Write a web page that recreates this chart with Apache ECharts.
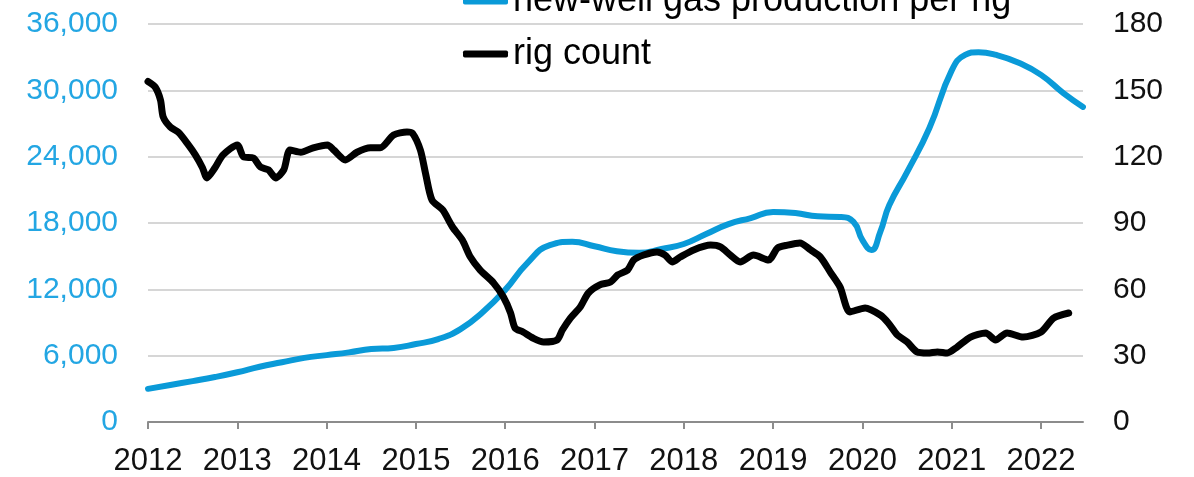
<!DOCTYPE html>
<html>
<head>
<meta charset="utf-8">
<script src="https://cdn.jsdelivr.net/npm/echarts@6/dist/echarts.min.js"></script>
<style>
html,body{margin:0;padding:0;background:#fff;}
#chart{width:1194px;height:477px;}
</style>
</head>
<body>
<div id="chart"></div>
<script>
// ---- data ----
const yearTicks = [2012, 2013, 2014, 2015, 2016, 2017, 2018, 2019, 2020, 2021, 2022];

const gasYears = [2012.00, 2012.25, 2012.50, 2012.75, 2013.00, 2013.25, 2013.50, 2013.75, 2014.00, 2014.25,
  2014.50, 2014.75, 2015.00, 2015.25, 2015.50, 2015.75, 2016.00, 2016.25, 2016.50, 2016.75,
  2017.00, 2017.25, 2017.50, 2017.75, 2018.00, 2018.25, 2018.50, 2018.75, 2019.00, 2019.25,
  2019.50, 2019.75, 2019.90, 2020.00, 2020.10, 2020.20, 2020.30, 2020.50, 2020.75, 2021.00,
  2021.15, 2021.30, 2021.50, 2021.75, 2022.00, 2022.25, 2022.47];
const gasValues = [3000, 3350, 3700, 4070, 4500, 5000, 5400, 5800, 6050, 6300,
  6600, 6700, 7050, 7500, 8400, 9950, 11950, 14400, 16000, 16300,
  15900, 15450, 15300, 15650, 16100, 17000, 17900, 18450, 19000, 18900,
  18600, 18550, 18100, 16450, 15550, 17200, 19600, 22600, 26600, 31800,
  33200, 33450, 33200, 32500, 31400, 29750, 28500];

const rigYears = [2012.00, 2012.08, 2012.14, 2012.17, 2012.25, 2012.34, 2012.44, 2012.53, 2012.61, 2012.66,
  2012.75, 2012.84, 2013.00, 2013.07, 2013.18, 2013.26, 2013.35, 2013.43, 2013.52, 2013.59,
  2013.71, 2013.85, 2014.01, 2014.08, 2014.21, 2014.34, 2014.49, 2014.60, 2014.75, 2014.90,
  2014.96, 2015.05, 2015.11, 2015.18, 2015.30, 2015.41, 2015.52, 2015.61, 2015.72, 2015.87,
  2015.98, 2016.06, 2016.11, 2016.20, 2016.31, 2016.43, 2016.58, 2016.64, 2016.73, 2016.84,
  2016.93, 2017.06, 2017.18, 2017.26, 2017.37, 2017.44, 2017.55, 2017.70, 2017.79, 2017.87,
  2017.96, 2018.11, 2018.30, 2018.41, 2018.52, 2018.63, 2018.78, 2018.95, 2019.05, 2019.16,
  2019.30, 2019.42, 2019.53, 2019.64, 2019.75, 2019.86, 2020.03, 2020.20, 2020.29, 2020.39,
  2020.50, 2020.61, 2020.73, 2020.84, 2020.95, 2021.06, 2021.21, 2021.38, 2021.49, 2021.62,
  2021.80, 2022.00, 2022.14, 2022.31];
const rigValues = [154, 151.5, 145.6, 138, 133.4, 131, 126, 120.8, 115, 110.4,
  115, 120.8, 125.3, 119.9, 119.4, 115.3, 114, 110.4, 114, 123,
  122, 124, 125.3, 123, 118.5, 122, 124, 124, 129.8, 131.2,
  130.7, 123, 112, 100.4, 95.9, 88.2, 82.3, 74.6, 68.7, 62.9,
  56.5, 49.3, 42.5, 40.7, 38, 36.2, 37.1, 41.6, 47, 52,
  58.3, 62, 63.3, 66.5, 68.7, 73.3, 75.5, 76.9, 75.5, 72.4,
  74.6, 77.8, 80, 79.2, 75.5, 72.4, 75.5, 73.3, 78.7, 80,
  81, 77.8, 74.6, 67.8, 61, 49.8, 51.6, 48.4, 44.8, 39.4,
  36.2, 31.7, 31.2, 31.7, 31.2, 33.9, 38.4, 40.3, 37.1, 40.3,
  38.4, 40.7, 47, 49.3];

const seriesNames = ['new-well gas production per rig', 'rig count'];

// ---- chart ----
const BLUE = '#0a9ad8';
const LABEL_BLUE = '#23a6e3';
const FONT = 'Liberation Sans, Arial, sans-serif';

const chart = echarts.init(document.getElementById('chart'), null, {renderer: 'canvas'});
chart.setOption({
  animation: false,
  backgroundColor: '#ffffff',
  grid: {left: 148, right: 111, top: 24, bottom: 55, containLabel: false},
  legend: {
    orient: 'vertical',
    left: 463,
    top: -17,
    padding: 0,
    itemWidth: 45,
    itemHeight: 7,
    itemGap: 17,
    icon: 'roundRect',
    data: seriesNames,
    textStyle: {fontFamily: FONT, fontSize: 36, color: '#000', lineHeight: 36}
  },
  xAxis: {
    type: 'value',
    min: 2012,
    max: 2022.47,
    interval: 1,
    splitLine: {show: false},
    axisLine: {show: true, lineStyle: {color: '#8c8c8c', width: 2}},
    axisTick: {show: true, length: 7, lineStyle: {color: '#8c8c8c', width: 2}, customValues: yearTicks},
    axisLabel: {
      customValues: yearTicks,
      fontFamily: FONT, fontSize: 31, color: '#111', margin: 24,
      formatter: v => String(Math.round(v))
    }
  },
  yAxis: [
    {
      type: 'value', min: 0, max: 36000, interval: 6000, position: 'left',
      axisLine: {show: false}, axisTick: {show: false},
      splitLine: {show: true, lineStyle: {color: '#d6d6d6', width: 2}},
      axisLabel: {
        fontFamily: FONT, fontSize: 30, color: LABEL_BLUE, margin: 30,
        formatter: v => v.toLocaleString('en-US')
      }
    },
    {
      type: 'value', min: 0, max: 180, interval: 30, position: 'right',
      axisLine: {show: false}, axisTick: {show: false},
      splitLine: {show: false},
      axisLabel: {fontFamily: FONT, fontSize: 30, color: '#111', margin: 30}
    }
  ],
  series: [
    {
      name: seriesNames[0],
      type: 'line',
      yAxisIndex: 0,
      smooth: 0.5,
      symbol: 'none',
      data: gasYears.map((y, i) => [y, gasValues[i]]),
      itemStyle: {color: BLUE},
      lineStyle: {color: BLUE, width: 6, cap: 'round', join: 'round'},
      z: 2
    },
    {
      name: seriesNames[1],
      type: 'line',
      yAxisIndex: 1,
      smooth: 0.25,
      symbol: 'none',
      data: rigYears.map((y, i) => [y, rigValues[i]]),
      itemStyle: {color: '#000'},
      lineStyle: {color: '#000', width: 7, cap: 'round', join: 'round'},
      z: 3
    }
  ]
});
</script>
</body>
</html>
